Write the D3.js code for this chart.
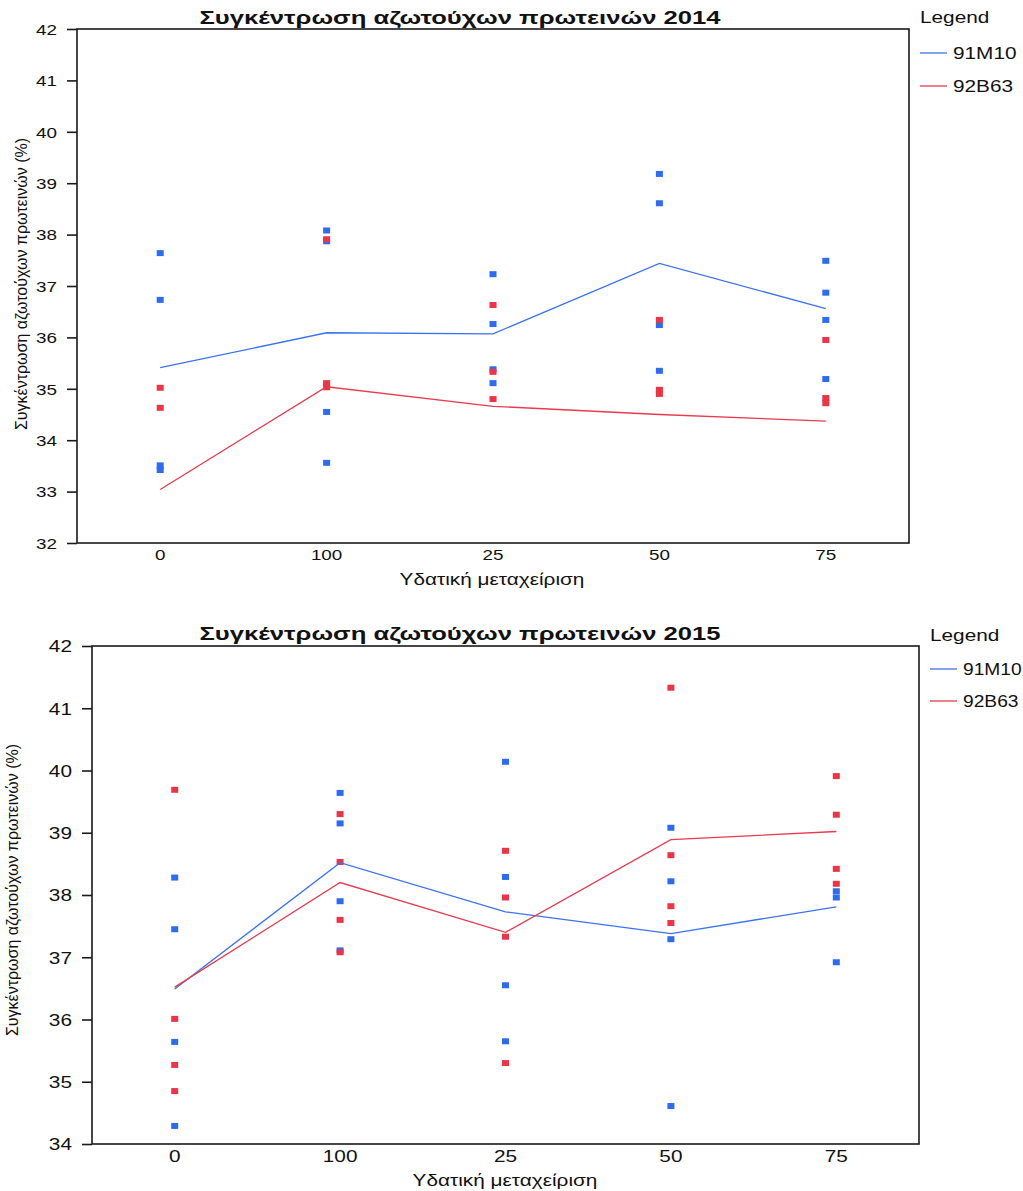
<!DOCTYPE html>
<html>
<head>
<meta charset="utf-8">
<script src="https://cdn.jsdelivr.net/npm/d3@7"></script>
<style>
  html, body { margin: 0; padding: 0; background: #fff; }
  svg { display: block; }
  text { font-family: "Liberation Sans", Arial, sans-serif; fill: #111; }
</style>
</head>
<body>
<svg id="chart" width="1023" height="1191"></svg>
<script>
// Water treatment levels, in the order they appear on the axis
const categories = ["0", "100", "25", "50", "75"];
const hybrids = ["91M10", "92B63"];

// 2014: individual plot measurements (%) per treatment
const obs2014_91M10 = [
  [37.64, 36.73, 33.51, 33.42],
  [38.08, 37.87, 34.55, 33.56],
  [37.23, 36.26, 35.38, 35.11],
  [39.18, 38.61, 36.24, 35.35],
  [37.49, 36.87, 36.34, 35.19]
];
const obs2014_92B63 = [
  [35.02, 34.63],
  [37.91, 35.11, 35.03],
  [36.63, 35.33, 34.80],
  [36.34, 34.98, 34.90],
  [35.95, 34.82, 34.72]
];
// 2014: treatment means
const mean2014_91M10 = [35.41, 36.09, 36.07, 37.44, 36.56];
const mean2014_92B63 = [33.04, 35.04, 34.66, 34.50, 34.37];

// 2015: individual plot measurements (%) per treatment
const obs2015_91M10 = [
  [38.28, 37.45, 35.64, 34.29],
  [39.64, 39.15, 37.90, 37.11],
  [40.14, 38.29, 36.55, 35.65],
  [39.08, 38.22, 37.29, 34.61],
  [38.06, 37.96, 36.92]
];
const obs2015_92B63 = [
  [39.69, 36.01, 35.27, 34.85],
  [39.30, 38.53, 37.60, 37.08],
  [38.71, 37.96, 37.33, 35.30],
  [41.33, 38.64, 37.82, 37.55],
  [39.91, 39.29, 38.42, 38.18]
];
// 2015: treatment means
const mean2015_91M10 = [36.49, 38.52, 37.73, 37.38, 37.81];
const mean2015_92B63 = [36.52, 38.20, 37.40, 38.89, 39.02];

const yTicks2014 = [32, 33, 34, 35, 36, 37, 38, 39, 40, 41, 42];
const yTicks2015 = [34, 35, 36, 37, 38, 39, 40, 41, 42];

const titleText = "Συγκέντρωση αζωτούχων πρωτεινών";
const yTitleText = "Συγκέντρωση αζωτούχων πρωτεινών (%)";
const xTitleText = "Υδατική μεταχείριση";

const colors = { "91M10": "#2c6cf5", "92B63": "#ee3347" };
const lineColors = { "91M10": "#3a73f2", "92B63": "#e93a4e" };

const svg = d3.select("#chart");

// Horizontally widened text, the way the exported figure renders its labels
function wideText(g, x, y, str, opts) {
  const sx = opts.sx || 1.3;
  const t = g.append("text")
    .attr("transform", `translate(${x},${y}) scale(${sx},1)` + (opts.rotate ? ` rotate(${opts.rotate})` : ""))
    .attr("text-anchor", opts.anchor || "start")
    .style("font-size", opts.size + "px")
    .style("font-weight", opts.bold ? "bold" : "normal")
    .text(str);
  return t;
}

function drawPanel(cfg) {
  const g = svg.append("g");
  const x = d3.scaleBand().domain(categories).range([cfg.left, cfg.right]).padding(0);
  const y = d3.scaleLinear().domain(cfg.yDomain).range([cfg.bottom, cfg.top]);

  // plot frame
  g.append("rect")
    .attr("x", cfg.left).attr("y", cfg.top)
    .attr("width", cfg.right - cfg.left).attr("height", cfg.bottom - cfg.top)
    .attr("fill", "none").attr("stroke", "#1a1a1a").attr("stroke-width", 1.6);

  // y axis
  const yAxis = d3.axisLeft(y).tickValues(cfg.yTicks).tickSize(10).tickPadding(0).tickFormat(d3.format("d"));
  const ya = g.append("g").attr("transform", `translate(${cfg.left},0)`).call(yAxis);
  ya.select(".domain").remove();
  ya.selectAll(".tick line").attr("stroke", "#1a1a1a").attr("stroke-width", 1.6);
  ya.selectAll(".tick text")
    .attr("x", null).attr("dy", null)
    .attr("transform", `translate(-20,${cfg.tickSize * 0.36}) scale(${cfg.sx},1)`)
    .attr("text-anchor", "end")
    .style("font-size", cfg.tickSize + "px")
    .style("font-family", "Liberation Sans, Arial, sans-serif")
    .attr("fill", "#111");

  // x axis labels
  const xAxis = d3.axisBottom(x).tickSize(0).tickPadding(0);
  const xa = g.append("g").attr("transform", `translate(0,${cfg.bottom})`).call(xAxis);
  xa.select(".domain").remove();
  xa.selectAll(".tick text")
    .attr("y", null).attr("dy", null)
    .attr("transform", `translate(0,${cfg.xLabelY - cfg.bottom}) scale(${cfg.sx},1)`)
    .attr("text-anchor", "middle")
    .style("font-size", cfg.tickSize + "px")
    .style("font-family", "Liberation Sans, Arial, sans-serif")
    .attr("fill", "#111");

  // observations
  const sq = cfg.marker;
  const cx = c => x(c) + x.bandwidth() / 2;
  cfg.obs.forEach((arr, si) => {
    const h = hybrids[si];
    const flat = [];
    arr.forEach((vals, ci) => vals.forEach(v => flat.push({ c: categories[ci], v })));
    g.append("g").selectAll("rect").data(flat).join("rect")
      .attr("x", d => cx(d.c) - sq[0] / 2)
      .attr("y", d => y(d.v) - sq[1] / 2)
      .attr("width", sq[0]).attr("height", sq[1])
      .attr("fill", colors[h]);
  });

  // treatment means
  const line = d3.line().x((d, i) => cx(categories[i])).y(d => y(d));
  cfg.means.forEach((m, si) => {
    g.append("path").datum(m)
      .attr("d", line)
      .attr("fill", "none")
      .attr("stroke", lineColors[hybrids[si]])
      .attr("stroke-width", 1.3);
  });

  // title
  wideText(g, cfg.titleX, cfg.titleY, titleText + " " + cfg.year, { size: cfg.titleSize, bold: true, anchor: "middle", sx: cfg.titleSx });
  // axis titles
  wideText(g, cfg.xTitleX, cfg.xTitleY, xTitleText, { size: cfg.labelSize, anchor: "middle", sx: cfg.sx });
  wideText(g, cfg.yTitleX, cfg.yTitleY, yTitleText, { size: cfg.labelSize, anchor: "middle", sx: 1.05, rotate: -90 });

  // legend
  wideText(g, cfg.legX, cfg.legY, "Legend", { size: cfg.legSize, sx: cfg.sx });
  hybrids.forEach((h, i) => {
    const ly = cfg.legLineY + i * cfg.legGap;
    g.append("line")
      .attr("x1", cfg.legX).attr("x2", cfg.legX + 27)
      .attr("y1", ly).attr("y2", ly)
      .attr("stroke", lineColors[h]).attr("stroke-width", 1.3);
    wideText(g, cfg.legX + 33, ly + cfg.legSize * 0.36, h, { size: cfg.legSize, sx: cfg.legSx });
  });
}

drawPanel({
  year: "2014",
  left: 77, right: 909, top: 29, bottom: 543,
  yDomain: [32, 42], yTicks: yTicks2014,
  obs: [obs2014_91M10, obs2014_92B63],
  means: [mean2014_91M10, mean2014_92B63],
  marker: [7, 6],
  sx: 1.3, legSx: 1.3, tickSize: 14.5, labelSize: 16, legSize: 16, titleSize: 19, titleSx: 1.35,
  xLabelY: 560,
  titleX: 460, titleY: 24,
  xTitleX: 492, xTitleY: 585,
  yTitleX: 27, yTitleY: 284,
  legX: 920, legY: 23, legLineY: 53, legGap: 33
});

drawPanel({
  year: "2015",
  left: 92, right: 919, top: 646, bottom: 1144,
  yDomain: [34, 42], yTicks: yTicks2015,
  obs: [obs2015_91M10, obs2015_92B63],
  means: [mean2015_91M10, mean2015_92B63],
  marker: [7, 6],
  sx: 1.3, legSx: 1.2, tickSize: 16, labelSize: 16, legSize: 16, titleSize: 19, titleSx: 1.35,
  xLabelY: 1162,
  titleX: 460, titleY: 640,
  xTitleX: 505, xTitleY: 1186,
  yTitleX: 18, yTitleY: 890,
  legX: 930, legY: 641, legLineY: 669, legGap: 32
});
</script>
</body>
</html>
